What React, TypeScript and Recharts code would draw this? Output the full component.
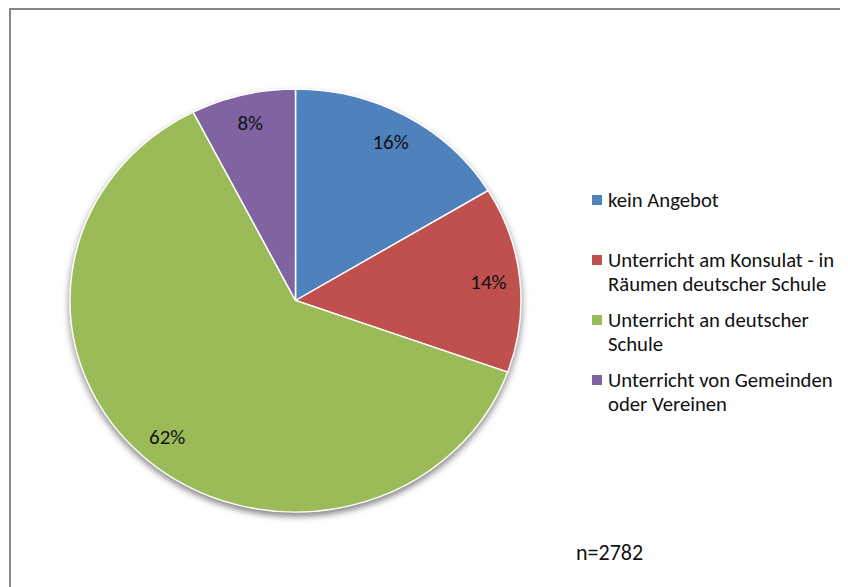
import { Cell, Legend, Pie, PieChart } from "recharts";

// Sprachunterricht – Anteile in %
const categories = [
  "kein Angebot",
  "Unterricht am Konsulat - in\nRäumen deutscher Schule",
  "Unterricht an deutscher\nSchule",
  "Unterricht von Gemeinden\noder Vereinen",
];
const shares = [16.3, 14.2, 62.0, 7.5];
const colors = ["#4F81BD", "#C0504D", "#9BBB59", "#8064A2"];
const sampleNote = "n=2782";

const FONT = "Carlito, Calibri, Lato, sans-serif";
const W = 837;
const H = 577;
const CX = 284.5;
const CY = 290.5;
const R = 225.5;
const SQUASH = 0.938; // Excel-Kreis ist leicht elliptisch

const RAD = Math.PI / 180;

function PctLabel(props: any) {
  const { cx, cy, midAngle, outerRadius, value } = props;
  const r = outerRadius * 0.86;
  const x = cx + r * Math.cos(-midAngle * RAD);
  const y = cy + r * Math.sin(-midAngle * RAD);
  return (
    <text
      x={x}
      y={y}
      textAnchor="middle"
      dominantBaseline="central"
      fill="#111"
      fontSize={21}
      fontFamily={FONT}
    >
      {`${Math.round(value)}%`}
    </text>
  );
}

function LegendBox() {
  return (
    <div style={{ fontFamily: FONT, fontSize: 20.7, lineHeight: "24px", color: "#111" }}>
      {categories.map((name, i) => (
        <div key={name} style={{ display: "flex", alignItems: "flex-start", height: 60 }}>
          <span
            style={{
              width: 10,
              height: 10,
              marginTop: 7,
              marginRight: 6,
              background: colors[i],
              flex: "none",
            }}
          />
          <span style={{ whiteSpace: "pre" }}>{name}</span>
        </div>
      ))}
    </div>
  );
}

export default function App() {
  const data = categories.map((name, i) => ({ name, value: shares[i] }));

  return (
    <div
      style={{
        position: "relative",
        width: 837,
        height: 577,
        marginLeft: 1,
        borderTop: "2px solid #878787",
        borderLeft: "2px solid #878787",
        background: "#fff",
        overflow: "hidden",
      }}
    >
      <style>{`
        body { overflow: hidden; }
        .pie-wrap svg.recharts-surface { transform: scaleY(${SQUASH}); transform-origin: 0 ${CY}px; }
        .pie-wrap .pie-shadow { filter: blur(2.5px); }
      `}</style>
      <div className="pie-wrap">
        <PieChart width={W} height={H} margin={{ top: 0, right: 0, bottom: 0, left: 0 }}>
          <Pie
            className="pie-shadow"
            data={[{ name: "shadow", value: 1 }]}
            dataKey="value"
            cx={CX}
            cy={CY + 4}
            outerRadius={R + 1}
            startAngle={90}
            endAngle={-270}
            stroke="none"
            fill="#8c8c8c"
            legendType="none"
            isAnimationActive={false}
          />
          <Pie
            data={data}
            dataKey="value"
            nameKey="name"
            cx={CX}
            cy={CY}
            outerRadius={R}
            startAngle={90}
            endAngle={-270}
            stroke="#fff"
            strokeWidth={1.5}
            label={PctLabel}
            labelLine={false}
            isAnimationActive={false}
          >
            {data.map((d, i) => (
              <Cell key={d.name} fill={colors[i]} />
            ))}
          </Pie>
          <Legend
            layout="vertical"
            align="right"
            verticalAlign="top"
            content={LegendBox}
            wrapperStyle={{ left: 581, top: 178, width: 256 }}
          />
        </PieChart>
      </div>
      <div
        style={{
          position: "absolute",
          left: 565,
          top: 531,
          fontFamily: FONT,
          fontSize: 22,
          lineHeight: "24px",
          color: "#111",
        }}
      >
        {sampleNote}
      </div>
    </div>
  );
}
